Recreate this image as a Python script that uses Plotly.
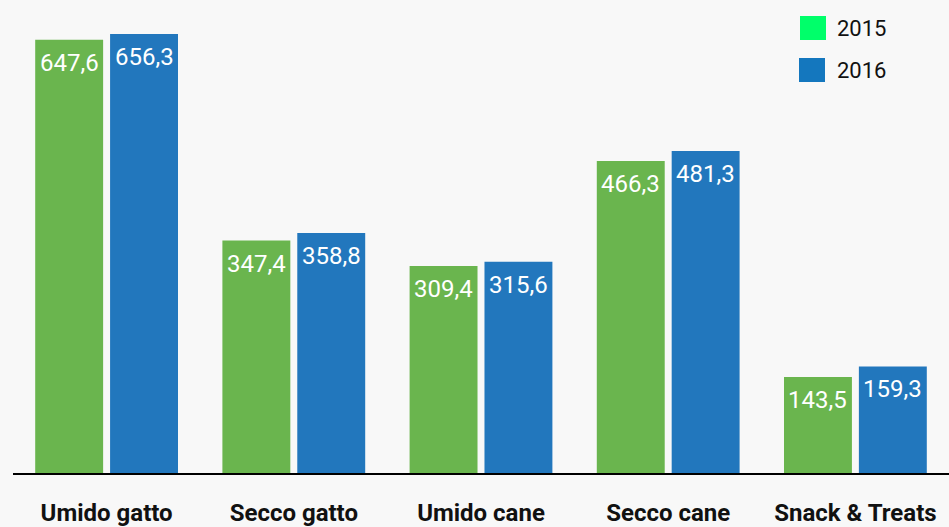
import plotly.graph_objects as go

categories = ["Umido gatto", "Secco gatto", "Umido cane", "Secco cane", "Snack & Treats"]
values_2015 = [647.6, 347.4, 309.4, 466.3, 143.5]
values_2016 = [656.3, 358.8, 315.6, 481.3, 159.3]
series_names = ["2015", "2016"]

bar_colors = ["#6AB54E", "#2277BD"]
legend_colors = ["#00FF6A", "#1477BE"]

def fmt(v):
    return f"{v:.1f}".replace(".", ",")

W, H = 949, 527
ml, mr, mt, mb = 13, 0, 0, 54
pw, ph = W - ml - mr, H - mt - mb
BARGAP = 0.2
BARGROUPGAP = 0.093
cat_px = pw / len(categories)
slot_px = cat_px * (1 - BARGAP) / 2

fig = go.Figure()
annotations = []
for i, (name, vals, col) in enumerate(zip(series_names, [values_2015, values_2016], bar_colors)):
    fig.add_trace(go.Bar(
        x=categories, y=vals, name=name,
        marker=dict(color=col, line=dict(width=0)),
        showlegend=False,
    ))
    shift = (i - 0.5) * slot_px
    for c, v in zip(categories, vals):
        annotations.append(dict(
            x=c, y=v, xref="x", yref="y", text=fmt(v), showarrow=False,
            xanchor="center", yanchor="middle", xshift=shift, yshift=-23,
            font=dict(family="Roboto", size=24, color="white"),
        ))

def px_x(p):
    return (p - ml) / pw

def px_y(p):
    return 1 - (p - mt) / ph

shapes = []
legend_boxes = [(800, 16, 826, 40), (799, 58, 825, 82)]
for name, col, (x0, y0, x1, y1) in zip(series_names, legend_colors, legend_boxes):
    shapes.append(dict(type="rect", xref="paper", yref="paper",
                       x0=px_x(x0), x1=px_x(x1), y0=px_y(y1), y1=px_y(y0),
                       fillcolor=col, line=dict(width=0)))
    annotations.append(dict(xref="paper", yref="paper", x=px_x(835), y=px_y((y0 + y1) / 2),
                            text=name, showarrow=False, xanchor="left", yanchor="middle",
                            font=dict(family="Roboto", size=22, color="#111111")))

fig.update_layout(
    width=W, height=H,
    margin=dict(l=ml, r=mr, t=mt, b=mb),
    paper_bgcolor="#F8F8F8", plot_bgcolor="#F8F8F8",
    barmode="group", bargap=BARGAP, bargroupgap=BARGROUPGAP,
    shapes=shapes, annotations=annotations,
    xaxis=dict(showline=True, linecolor="#000000", linewidth=2, showgrid=False,
               ticks="", ticklabelstandoff=17, automargin=False,
               tickfont=dict(family="Roboto", size=24, color="#111111", weight="bold")),
    yaxis=dict(visible=False, range=[0, 707], showgrid=False, zeroline=False,
               automargin=False),
    showlegend=False,
)

fig.write_html("out.html")
